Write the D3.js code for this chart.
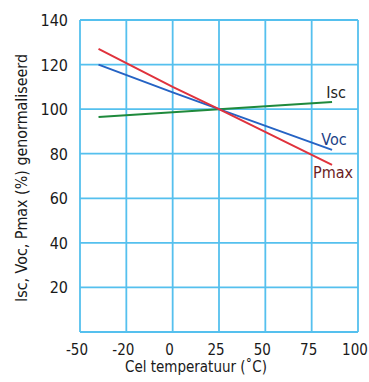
<!DOCTYPE html>
<html>
<head>
<meta charset="utf-8">
<script src="https://cdn.jsdelivr.net/npm/d3@7"></script>
<style>
  html, body { margin: 0; padding: 0; background: #fff; }
  svg { display: block; }
  text { font-family: "Liberation Sans Narrow", "DejaVu Sans Condensed", "Roboto", sans-serif; fill: #1a1a1a; }
</style>
</head>
<body>
<svg id="chart" width="369" height="382"></svg>
<script>
// ---- data ----
const xTicks = [-50, -20, 0, 25, 50, 75, 100];
const yTicks = [20, 40, 60, 80, 100, 120, 140];
const temps = [-38, 0, 25, 86];
const pmax = [127, 110, 100, 75];
const voc  = [120, 107.5, 100, 81.7];
const isc  = [96.5, 98.6, 100, 103.2];
const seriesNames = ["Isc", "Voc", "Pmax"];
const xTitle = "Cel temperatuur (˚C)";
const yTitle = "Isc, Voc, Pmax (%) genormaliseerd";

// ---- layout ----
const mLeft = 80, mRight = 358, mTop = 20, mBottom = 332;
const svg = d3.select("#chart");

const step = (mRight - mLeft) / (xTicks.length - 1);
const x = d3.scaleLinear()
  .domain(xTicks)
  .range(xTicks.map((d, i) => mLeft + i * step));
const y = d3.scaleLinear().domain([0, 140]).range([mBottom, mTop]);

const gridColor = "#55c0ee";

// grid
const g = svg.append("g");
g.selectAll(".vg").data(xTicks).enter().append("line")
  .attr("x1", d => x(d)).attr("x2", d => x(d))
  .attr("y1", mTop).attr("y2", mBottom)
  .attr("stroke", gridColor).attr("stroke-width", 1.8);
g.selectAll(".hg").data([0].concat(yTicks)).enter().append("line")
  .attr("x1", mLeft).attr("x2", mRight)
  .attr("y1", d => y(d)).attr("y2", d => y(d))
  .attr("stroke", gridColor).attr("stroke-width", 1.8);

// y tick labels
svg.append("g").selectAll("text").data(yTicks).enter().append("text")
  .attr("x", 68).attr("y", d => y(d) + 6)
  .attr("text-anchor", "end")
  .attr("font-size", 16)
  .text(d => d);

// x tick labels
svg.append("g").selectAll("text").data(xTicks).enter().append("text")
  .attr("x", d => x(d) - 3).attr("y", 355)
  .attr("text-anchor", "middle")
  .attr("font-size", 15)
  .text(d => d);

// axis titles
svg.append("text")
  .attr("x", 196).attr("y", 372)
  .attr("text-anchor", "middle")
  .attr("font-size", 15)
  .attr("textLength", 142).attr("lengthAdjust", "spacingAndGlyphs")
  .text(xTitle);
svg.append("text")
  .attr("transform", "translate(27,178) rotate(-90)")
  .attr("text-anchor", "middle")
  .attr("font-size", 16)
  .attr("textLength", 248).attr("lengthAdjust", "spacingAndGlyphs")
  .text(yTitle);

// lines
const line = d3.line().x(d => x(d[0])).y(d => y(d[1]));
const mk = vals => temps.map((t, i) => [t, vals[i]]);

svg.append("path").datum(mk(isc))
  .attr("d", line).attr("fill", "none")
  .attr("stroke", "#1f8a3c").attr("stroke-width", 2);
svg.append("path").datum(mk(voc))
  .attr("d", line).attr("fill", "none")
  .attr("stroke", "#2563c4").attr("stroke-width", 2);
svg.append("path").datum(mk(pmax))
  .attr("d", line).attr("fill", "none")
  .attr("stroke", "#e0323c").attr("stroke-width", 2);

// series labels
const labelColors = ["#222222", "#1c3f86", "#6a1d1f"];
const labelPos = [[336, 98], [334, 145], [333, 178]];
svg.append("g").selectAll("text").data(seriesNames).enter().append("text")
  .attr("x", (d, i) => labelPos[i][0]).attr("y", (d, i) => labelPos[i][1])
  .attr("text-anchor", "middle")
  .attr("font-size", 16)
  .style("fill", (d, i) => labelColors[i])
  .text(d => d);
</script>
</body>
</html>
